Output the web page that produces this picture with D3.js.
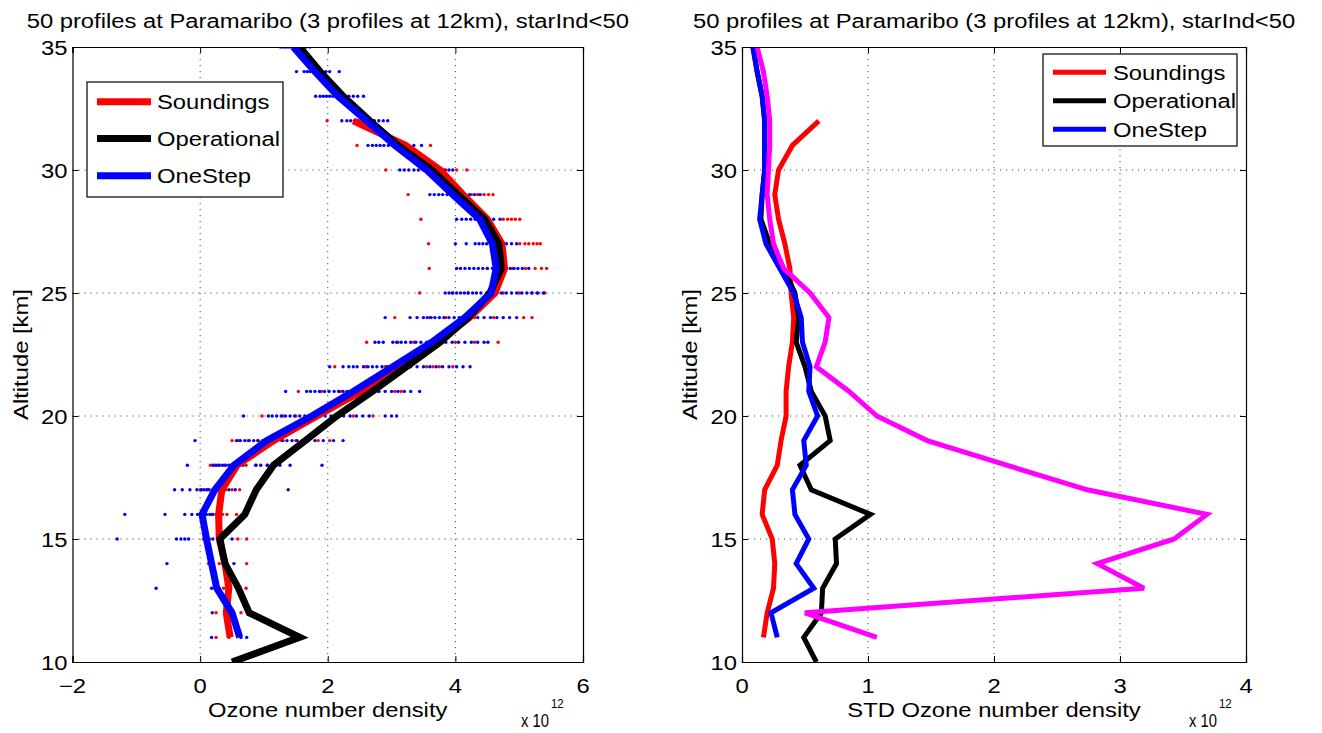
<!DOCTYPE html>
<html><head><meta charset="utf-8">
<script src="https://cdn.jsdelivr.net/npm/d3@7"></script>
<style>body{margin:0;background:#fff;} svg{display:block;} text{font-family:"Liberation Sans",Arial,Helvetica,sans-serif;fill:#000;}</style>
</head><body>
<svg id="chart" width="1322" height="733"></svg>
<script>
// ---------------- DATA ----------------
const titleText = "50 profiles at Paramaribo (3 profiles at 12km), starInd<50";
const legendNames = ["Soundings", "Operational", "OneStep"];
const leftXTicks = [-2, 0, 2, 4, 6];
const rightXTicks = [0, 1, 2, 3, 4];
const yTicks = [10, 15, 20, 25, 30, 35];

// Left panel: mean profiles (altitude km, value x1e12)
const soundAlt = [11,12,13,14,15,16,17,18,19,20,21,22,23,24,25,26,27,28,29,30,31,32];
const soundMean = [0.47,0.41,0.45,0.39,0.30,0.29,0.34,0.58,1.15,1.83,2.52,3.12,3.72,4.22,4.62,4.77,4.73,4.50,4.12,3.76,3.22,2.40];
const operAlt = [10,11,12,13,14,15,16,17,18,19,20,21,22,23,24,25,26,27,28,29,30,31,32,33,34,35];
const operMean = [0.50,1.56,0.77,0.60,0.39,0.31,0.70,0.88,1.15,1.65,2.14,2.70,3.23,3.76,4.20,4.54,4.72,4.68,4.46,4.04,3.63,3.10,2.66,2.24,1.88,1.56];
const oneAlt = [11,12,13,14,15,16,17,18,19,20,21,22,23,24,25,26,27,28,29,30,31,32,33,34,35];
const oneMean = [0.62,0.50,0.26,0.18,0.10,0.03,0.23,0.53,1.04,1.75,2.40,3.02,3.63,4.15,4.56,4.64,4.58,4.38,3.96,3.55,3.05,2.61,2.16,1.80,1.46];

// Left panel: individual profile values per altitude [alt, values...]
const soundDots = [
  [11, 0.25,0.45],
  [12, 0.25,0.64],
  [13, 0.37,0.45,0.72],
  [14, 0.13,0.30,0.73],
  [15, 0.05,0.15,0.30,0.59,0.73],
  [16, 0.18,0.25,0.35,0.42,0.57],
  [17, 0.00,0.12,0.25,0.40,0.50,0.62],
  [18, 0.16,0.22,0.28,0.38,0.48,0.62,0.72,0.88,1.06],
  [19, 0.50,0.60,0.75,0.90,1.10,1.30,1.50,1.85,2.03],
  [20, 0.97,1.30,1.50,1.75,2.10,2.40,2.71],
  [21, 1.54,1.90,2.20,2.50,2.80,3.05,3.15],
  [22, 2.11,2.60,2.90,3.25,3.55,3.65,3.75,3.96],
  [23, 2.61,3.10,3.35,3.70,4.00,4.30,4.67],
  [24, 3.05,3.60,3.85,4.10,4.30,4.60,5.07,5.20],
  [25, 3.44,3.95,4.20,4.50,4.75,5.00,5.20,5.30,5.40],
  [26, 3.59,4.50,4.90,5.10,5.25,5.35,5.43],
  [27, 3.58,5.01,5.09,5.15,5.22,5.28,5.33],
  [28, 3.46,4.75,4.82,4.88,4.94,5.01],
  [29, 3.26,4.25,4.35,4.45,4.52,4.59],
  [30, 2.91,3.85,4.02,4.18],
  [31, 2.46,3.61],
  [32, 1.99]
];
const oneDots = [
  [11, 0.18,0.64,0.73],
  [12, 0.19,0.40],
  [13, -0.69,0.18,0.30],
  [14, -0.52,0.53],
  [15, -1.30,-0.37,-0.30,-0.24,-0.18,0.10,0.20,0.50],
  [16, -1.18,-0.55,-0.24,-0.13,-0.04,0.10,0.15,0.20,0.30],
  [17, -0.40,-0.28,-0.16,-0.05,0.02,0.06,0.10,0.14,0.20,0.28,0.36,0.45,0.55,1.38],
  [18, -0.20,0.20,0.25,0.30,0.35,0.40,0.45,0.50,0.58,0.67,0.87,0.95,1.05,1.14,1.25,1.41,1.91],
  [19, -0.08,0.57,0.63,0.70,0.77,0.84,0.91,0.98,1.05,1.12,1.20,1.28,1.36,1.44,1.52,1.60,1.70,1.80,1.93,2.09,2.24],
  [20, 0.68,1.07,1.13,1.20,1.27,1.34,1.41,1.48,1.56,1.64,1.72,1.80,1.88,1.96,2.05,2.15,2.25,2.35,2.45,2.55,2.65,2.90,3.00,3.08],
  [21, 1.34,1.67,1.73,1.80,1.87,1.95,2.02,2.10,2.17,2.24,2.30,2.38,2.46,2.55,2.64,2.72,2.80,2.90,3.00,3.10,3.20,3.30,3.44],
  [22, 2.03,2.24,2.33,2.40,2.46,2.56,2.63,2.70,2.77,2.85,2.93,3.00,3.10,3.20,3.30,3.40,3.50,3.60,3.70,3.80,3.90,4.02,4.12,4.23],
  [23, 2.74,2.80,2.87,3.02,3.08,3.15,3.22,3.30,3.38,3.46,3.55,3.65,3.75,3.85,3.95,4.05,4.15,4.25,4.35,4.45,4.51],
  [24, 2.90,3.29,3.40,3.50,3.56,3.62,3.68,3.75,3.82,3.90,3.98,4.06,4.15,4.25,4.35,4.45,4.55,4.65,4.75,4.85,4.96],
  [25, 3.84,3.90,3.96,4.02,4.08,4.14,4.20,4.27,4.33,4.40,4.49,4.65,4.72,4.80,4.88,4.96,5.04,5.12,5.20,5.28,5.38],
  [26, 4.02,4.08,4.15,4.22,4.29,4.36,4.43,4.50,4.58,4.65,4.80,4.86,4.92,4.98,5.05,5.15],
  [27, 4.00,4.17,4.31,4.37,4.43,4.49,4.60,4.70,4.80,4.88,4.96],
  [28, 4.02,4.10,4.17,4.24,4.31,4.39,4.50,4.60,4.70],
  [29, 3.60,3.67,3.74,3.80,3.87,3.94,4.00,4.07,4.15,4.22,4.30,4.39],
  [30, 3.13,3.20,3.27,3.35,3.42,3.50,3.58,3.66,3.74,3.82,3.90,3.96],
  [31, 2.63,2.70,2.76,2.82,2.88,2.95,3.02,3.10,3.18,3.26,3.35,3.47],
  [32, 2.22,2.30,2.36,2.42,2.48,2.54,2.60,2.66,2.73,2.80,2.87,2.94],
  [33, 1.81,1.88,1.93,1.98,2.03,2.08,2.13,2.20,2.26,2.33,2.40,2.47,2.56],
  [34, 1.51,1.63,1.68,1.72,1.77,1.82,1.87,1.92,1.97,2.03,2.18],
  [35, 1.26,1.30,1.34,1.38,1.42,1.46,1.50,1.55,1.60,1.66,1.72]
];

// Right panel: standard deviations (x1e12)
const soundStdAlt = soundAlt;
const soundStd = [0.17,0.20,0.25,0.26,0.24,0.16,0.18,0.28,0.31,0.35,0.35,0.37,0.40,0.41,0.39,0.38,0.34,0.29,0.26,0.29,0.40,0.61];
const operStdAlt = operAlt;
const operStd = [0.59,0.49,0.63,0.64,0.75,0.74,1.02,0.55,0.46,0.70,0.66,0.55,0.50,0.43,0.45,0.42,0.33,0.22,0.15,0.16,0.18,0.18,0.18,0.16,0.12,0.09];
const oneStdAlt = oneAlt;
const oneStd = [0.28,0.23,0.57,0.43,0.53,0.42,0.40,0.51,0.49,0.60,0.53,0.54,0.48,0.47,0.41,0.30,0.19,0.14,0.16,0.18,0.18,0.18,0.16,0.12,0.085];
const extraStdAlt = oneAlt;
const extraStd = [1.07,0.50,3.19,2.82,3.43,3.69,2.74,2.10,1.47,1.07,0.85,0.59,0.66,0.69,0.54,0.33,0.25,0.22,0.20,0.21,0.22,0.22,0.20,0.17,0.12];

// ---------------- DRAW ----------------
const svg = d3.select("#chart");
const SX = 1.19, FS = 20;
const RED = "#ff0000", BLACK = "#000000", BLUE = "#0000ff", MAG = "#ff00ff";

function txt(g, x, y, s, anchor, size, rot, sx) {
  const t = g.append("text")
    .attr("transform", `translate(${x},${y})${rot ? " rotate(" + rot + ")" : ""} scale(${sx || SX},1)`)
    .attr("text-anchor", anchor || "start")
    .attr("font-size", size || FS)
    .text(s);
  return t;
}

function panel(cfg) {
  const x = d3.scaleLinear().domain(cfg.xdom).range([cfg.left, cfg.right]);
  const y = d3.scaleLinear().domain([10, 35]).range([662, 47]);
  const g = svg.append("g");
  const clipId = "clip" + cfg.id;
  svg.append("clipPath").attr("id", clipId).append("rect")
    .attr("x", cfg.left).attr("y", 47).attr("width", cfg.right - cfg.left).attr("height", 615);

  // grid
  const grid = g.append("g").attr("stroke", "#3a3a3a").attr("stroke-width", 0.9).attr("stroke-dasharray", "1.2,4.8");
  cfg.xticks.slice(1, -1).forEach(v => grid.append("line").attr("x1", x(v)).attr("x2", x(v)).attr("y1", 47).attr("y2", 662));
  yTicks.slice(1, -1).forEach(v => grid.append("line").attr("x1", cfg.left).attr("x2", cfg.right).attr("y1", y(v)).attr("y2", y(v)));

  const plot = g.append("g").attr("clip-path", `url(#${clipId})`);
  cfg.draw(plot, x, y);

  // axes (box with inward ticks)
  const ax = g.append("g");
  ax.append("g").attr("transform", "translate(0,662)")
    .call(d3.axisBottom(x).tickValues(cfg.xticks).tickSize(-6).tickFormat(""));
  ax.append("g").attr("transform", "translate(0,47)")
    .call(d3.axisTop(x).tickValues(cfg.xticks).tickSize(-6).tickFormat(""));
  ax.append("g").attr("transform", `translate(${cfg.left},0)`)
    .call(d3.axisLeft(y).tickValues(yTicks).tickSize(-6).tickFormat(""));
  ax.append("g").attr("transform", `translate(${cfg.right},0)`)
    .call(d3.axisRight(y).tickValues(yTicks).tickSize(-6).tickFormat(""));
  ax.selectAll("path.domain").attr("stroke", "#000").attr("stroke-width", 1.2);
  ax.selectAll(".tick line").attr("stroke", "#000").attr("stroke-width", 1);

  // tick labels
  cfg.xticks.forEach(v => txt(g, x(v), 693, (v < 0 ? "\u2212" : "") + Math.abs(v), "middle"));
  yTicks.forEach(v => txt(g, cfg.left - 5, y(v) + 7.5, String(v), "end"));

  // labels
  txt(g, (cfg.left + cfg.right) / 2, 28, titleText, "middle");
  txt(g, (cfg.left + cfg.right) / 2, 717, cfg.xlabel, "middle");
  txt(g, cfg.left - 45, 354.5, "Altitude [km]", "middle", FS, -90);
  txt(g, cfg.expX, 727, "x 10", "start", 19, 0, 0.78);
  txt(g, cfg.expX + 30, 708, "12", "start", 12, 0, 0.95);

  // legend
  const L = cfg.legend;
  const lg = g.append("g");
  lg.append("rect").attr("x", L.x).attr("y", L.y).attr("width", L.w).attr("height", L.h)
    .attr("fill", "#fff").attr("stroke", "#000").attr("stroke-width", 1.2);
  [RED, BLACK, BLUE].forEach((c, i) => {
    const yy = L.rows[i];
    lg.append("line").attr("x1", L.lx1).attr("x2", L.lx2).attr("y1", yy).attr("y2", yy)
      .attr("stroke", c).attr("stroke-width", L.lw);
    txt(lg, L.tx, yy + 7.5, legendNames[i], "start");
  });
}

function drawLine(g, x, y, alts, vals, color, w) {
  const data = alts.map((a, i) => [vals[i], a]);
  g.append("path").datum(data)
    .attr("d", d3.line().x(d => x(d[0])).y(d => y(d[1])))
    .attr("fill", "none").attr("stroke", color).attr("stroke-width", w)
    .attr("stroke-linejoin", "miter").attr("stroke-miterlimit", 3);
}
function drawDots(g, x, y, rows, color) {
  const pts = [];
  rows.forEach(r => r.slice(1).forEach(v => pts.push([v, r[0]])));
  g.append("g").selectAll("circle").data(pts).join("circle")
    .attr("cx", d => x(d[0])).attr("cy", d => y(d[1])).attr("r", 1.7).attr("fill", color);
}

panel({
  id: "L", xdom: [-2, 6], left: 72.5, right: 583, xticks: leftXTicks,
  xlabel: "Ozone number density", expX: 521,
  legend: { x: 87, y: 82, w: 196, h: 115, rows: [101.7, 138.5, 175.7], lx1: 97, lx2: 151, tx: 157, lw: 7 },
  draw: (g, x, y) => {
    drawDots(g, x, y, soundDots, RED);
    drawDots(g, x, y, oneDots, BLUE);
    drawLine(g, x, y, soundAlt, soundMean, RED, 7);
    drawLine(g, x, y, operAlt, operMean, BLACK, 7);
    drawLine(g, x, y, oneAlt, oneMean, BLUE, 7);
  }
});

panel({
  id: "R", xdom: [0, 4], left: 742, right: 1246, xticks: rightXTicks,
  xlabel: "STD Ozone number density", expX: 1189,
  legend: { x: 1043, y: 54, w: 194, h: 92, rows: [72.3, 100.7, 129.3], lx1: 1053, lx2: 1106, tx: 1113, lw: 5 },
  draw: (g, x, y) => {
    drawLine(g, x, y, soundStdAlt, soundStd, RED, 5);
    drawLine(g, x, y, operStdAlt, operStd, BLACK, 5);
    drawLine(g, x, y, oneStdAlt, oneStd, BLUE, 5);
    drawLine(g, x, y, extraStdAlt, extraStd, MAG, 5);
  }
});
</script>
</body></html>
